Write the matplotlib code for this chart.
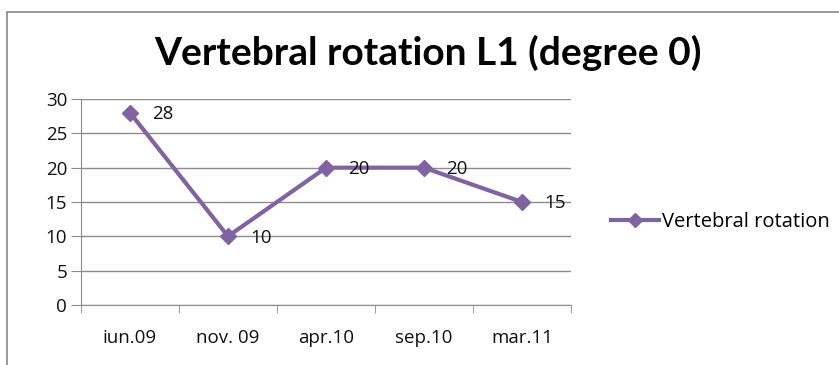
import matplotlib.pyplot as plt
from matplotlib.patches import Rectangle
from matplotlib.lines import Line2D

# chart data
dates = ['iun.09', 'nov. 09', 'apr.10', 'sep.10', 'mar.11']
rotation = [28, 10, 20, 20, 15]

purple = '#8064A2'
grid_col = '#8C8C8C'
text_col = '#111111'
font = 'Open Sans'

fig = plt.figure(figsize=(8.39, 3.65), dpi=100)

# outer chart frame (runs off the right and bottom edges)
fig.patches.append(Rectangle((7 / 839, -0.05), 1.0, 1 - 12 / 365 + 0.05,
                             transform=fig.transFigure, fill=False,
                             edgecolor='#888888', linewidth=1.2))

fig.text(428 / 839, 1 - 53 / 365, 'Vertebral rotation L1 (degree 0)',
         ha='center', va='center', fontsize=28, fontweight='bold',
         family='Lato', color='black')

ax = fig.add_axes([81 / 839, 1 - 305 / 365, 490 / 839, 206 / 365])
x = list(range(len(dates)))
ax.plot(x, rotation, color=purple, linewidth=3, marker='D', markersize=8.5,
        zorder=3)
for xi, v in zip(x, rotation):
    ax.annotate(str(v), (xi, v), xytext=(16, -1), textcoords='offset points',
                ha='left', va='center', fontsize=13.5, family=font, color=text_col)

ax.set_xlim(-0.5, len(dates) - 0.5)
ax.set_ylim(0, 30)
ax.set_yticks(range(0, 31, 5))
ax.tick_params(axis='y', length=7, color=grid_col, labelsize=13.5, pad=3)
ax.set_xticks(x)
ax.set_xticklabels(dates)
ax.set_xticks([i - 0.5 for i in range(len(dates) + 1)], minor=True)
ax.tick_params(axis='x', which='major', length=0, labelsize=13.5, pad=17)
ax.tick_params(axis='x', which='minor', length=6, color=grid_col)
for lab in ax.get_xticklabels() + ax.get_yticklabels():
    lab.set_family(font)
    lab.set_color(text_col)

ax.grid(axis='y', color=grid_col, linewidth=1)
ax.set_axisbelow(True)
for s in ['top', 'right']:
    ax.spines[s].set_visible(False)
ax.spines['left'].set_color(grid_col)
ax.spines['bottom'].set_color(grid_col)

handle = Line2D([], [], color=purple, linewidth=3, marker='D', markersize=7)
fig.legend([handle], ['Vertebral rotation'], loc='center left',
           bbox_to_anchor=(593 / 839, 1 - 222 / 365), frameon=False,
           prop={'family': font, 'size': 14.5}, handlelength=2.4,
           handletextpad=0.15)

fig.savefig('out.png', dpi=100)
